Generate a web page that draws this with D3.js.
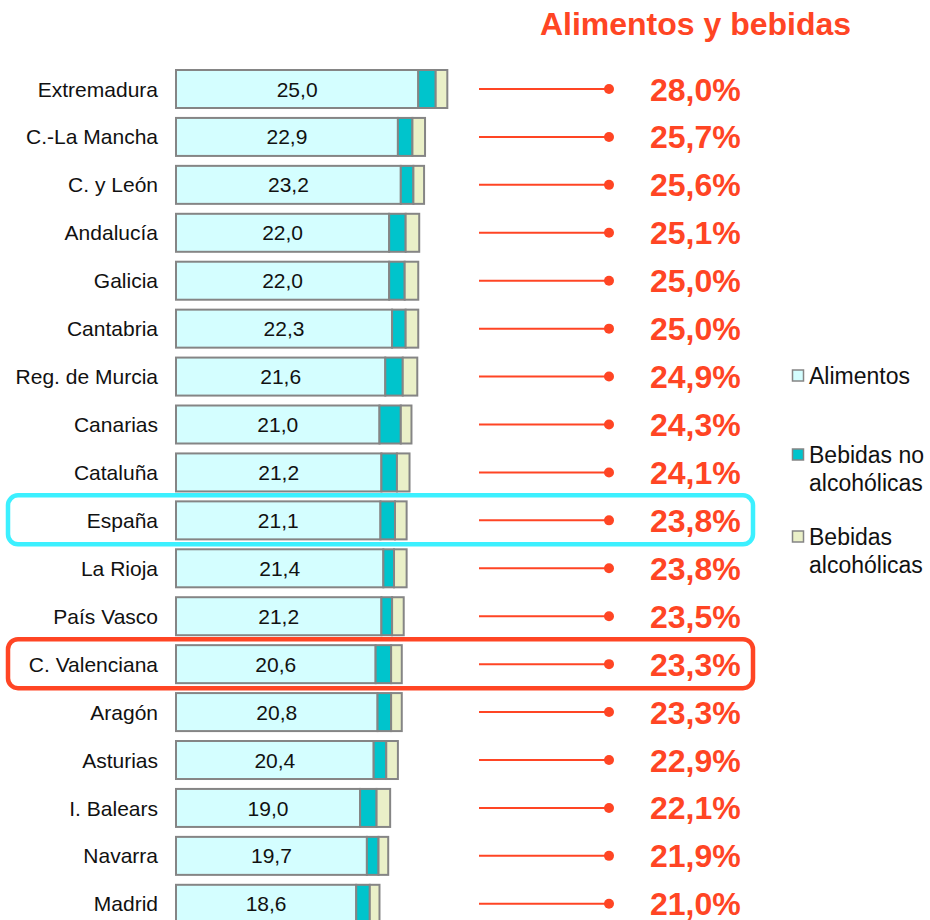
<!DOCTYPE html>
<html><head><meta charset="utf-8">
<script src="https://cdn.jsdelivr.net/npm/d3@7"></script>
<style>
html,body{margin:0;padding:0;background:#fff;}
svg{display:block;font-family:"Liberation Sans",Arial,sans-serif;}
</style></head>
<body>
<script>
const regions = ["Extremadura","C.-La Mancha","C. y León","Andalucía","Galicia","Cantabria","Reg. de Murcia","Canarias","Cataluña","España","La Rioja","País Vasco","C. Valenciana","Aragón","Asturias","I. Balears","Navarra","Madrid"];
const alimentos  = [25.0,22.9,23.2,22.0,22.0,22.3,21.6,21.0,21.2,21.1,21.4,21.2,20.6,20.8,20.4,19.0,19.7,18.6];
const bebidasNo  = [1.8,1.5,1.3,1.7,1.6,1.4,1.8,2.2,1.6,1.5,1.1,1.1,1.6,1.4,1.3,1.7,1.2,1.4];
const bebidasAlc = [1.2,1.3,1.1,1.4,1.4,1.3,1.5,1.1,1.3,1.2,1.3,1.2,1.1,1.1,1.2,1.4,1.0,1.0];
const totals     = [28.0,25.7,25.6,25.1,25.0,25.0,24.9,24.3,24.1,23.8,23.8,23.5,23.3,23.3,22.9,22.1,21.9,21.0];
const seriesNames = ["Alimentos","Bebidas no alcohólicas","Bebidas alcohólicas"];
const title = "Alimentos y bebidas";
const highlightCyan = "España";
const highlightRed = "C. Valenciana";

const W = 930, H = 920;
const colors = ["#d4feff","#00c4cc","#eaf0c8"];
const red = "#ff4524";
const fmt = v => d3.format(".1f")(v).replace(".", ",");

const svg = d3.select("body").append("svg").attr("width", W).attr("height", H);

const x = d3.scaleLinear().domain([0, 28]).range([176, 176 + 28 * 9.69]);
const y = d3.scalePoint().domain(regions).range([89, 903.8]);
const barH = 38;

const rows = regions.map((r, i) => ({
  region: r, vals: [alimentos[i], bebidasNo[i], bebidasAlc[i]], total: totals[i]
}));

// highlight boxes
[[highlightCyan, "#3cf0ff"], [highlightRed, red]].forEach(([name, c]) => {
  const cy = y(name);
  svg.append("rect").attr("x", 8).attr("y", cy - 25).attr("width", 745).attr("height", 49)
    .attr("rx", 10).attr("fill", "none").attr("stroke", c).attr("stroke-width", 4.5);
});

const g = svg.append("g");
rows.forEach(d => {
  const cy = y(d.region);
  let acc = 0;
  d.vals.forEach((v, k) => {
    g.append("rect").attr("x", x(acc)).attr("y", cy - barH / 2)
      .attr("width", x(acc + v) - x(acc)).attr("height", barH)
      .attr("fill", colors[k]).attr("stroke", "#858585").attr("stroke-width", 2);
    acc += v;
  });
  g.append("text").attr("x", (x(0) + x(d.vals[0])) / 2).attr("y", cy).attr("dy", "0.36em")
    .attr("text-anchor", "middle").attr("font-size", 21).attr("fill", "#111").text(fmt(d.vals[0]));
  g.append("text").attr("x", 158).attr("y", cy).attr("dy", "0.36em")
    .attr("text-anchor", "end").attr("font-size", 21).attr("fill", "#111").text(d.region);
  g.append("line").attr("x1", 479).attr("x2", 609).attr("y1", cy).attr("y2", cy)
    .attr("stroke", red).attr("stroke-width", 2);
  g.append("circle").attr("cx", 609).attr("cy", cy).attr("r", 5).attr("fill", red);
  g.append("text").attr("x", 650).attr("y", cy).attr("dy", "0.36em")
    .attr("font-size", 32).attr("font-weight", "bold").attr("fill", red).text(fmt(d.total) + "%");
});

svg.append("text").attr("x", 695.5).attr("y", 35).attr("text-anchor", "middle")
  .attr("font-size", 32).attr("font-weight", "bold").attr("fill", red).text(title);

// legend
const legendItems = [
  {lines: ["Alimentos"], y: 376},
  {lines: ["Bebidas no", "alcohólicas"], y: 455},
  {lines: ["Bebidas", "alcohólicas"], y: 537}
];
legendItems.forEach((it, k) => {
  svg.append("rect").attr("x", 792.5).attr("y", it.y - 6).attr("width", 11).attr("height", 11)
    .attr("fill", colors[k]).attr("stroke", "#858585").attr("stroke-width", 1.5);
  it.lines.forEach((t, j) => {
    svg.append("text").attr("x", 809).attr("y", it.y + j * 28).attr("dy", "0.36em")
      .attr("font-size", 23).attr("fill", "#111").text(t);
  });
});
</script>
</body></html>
